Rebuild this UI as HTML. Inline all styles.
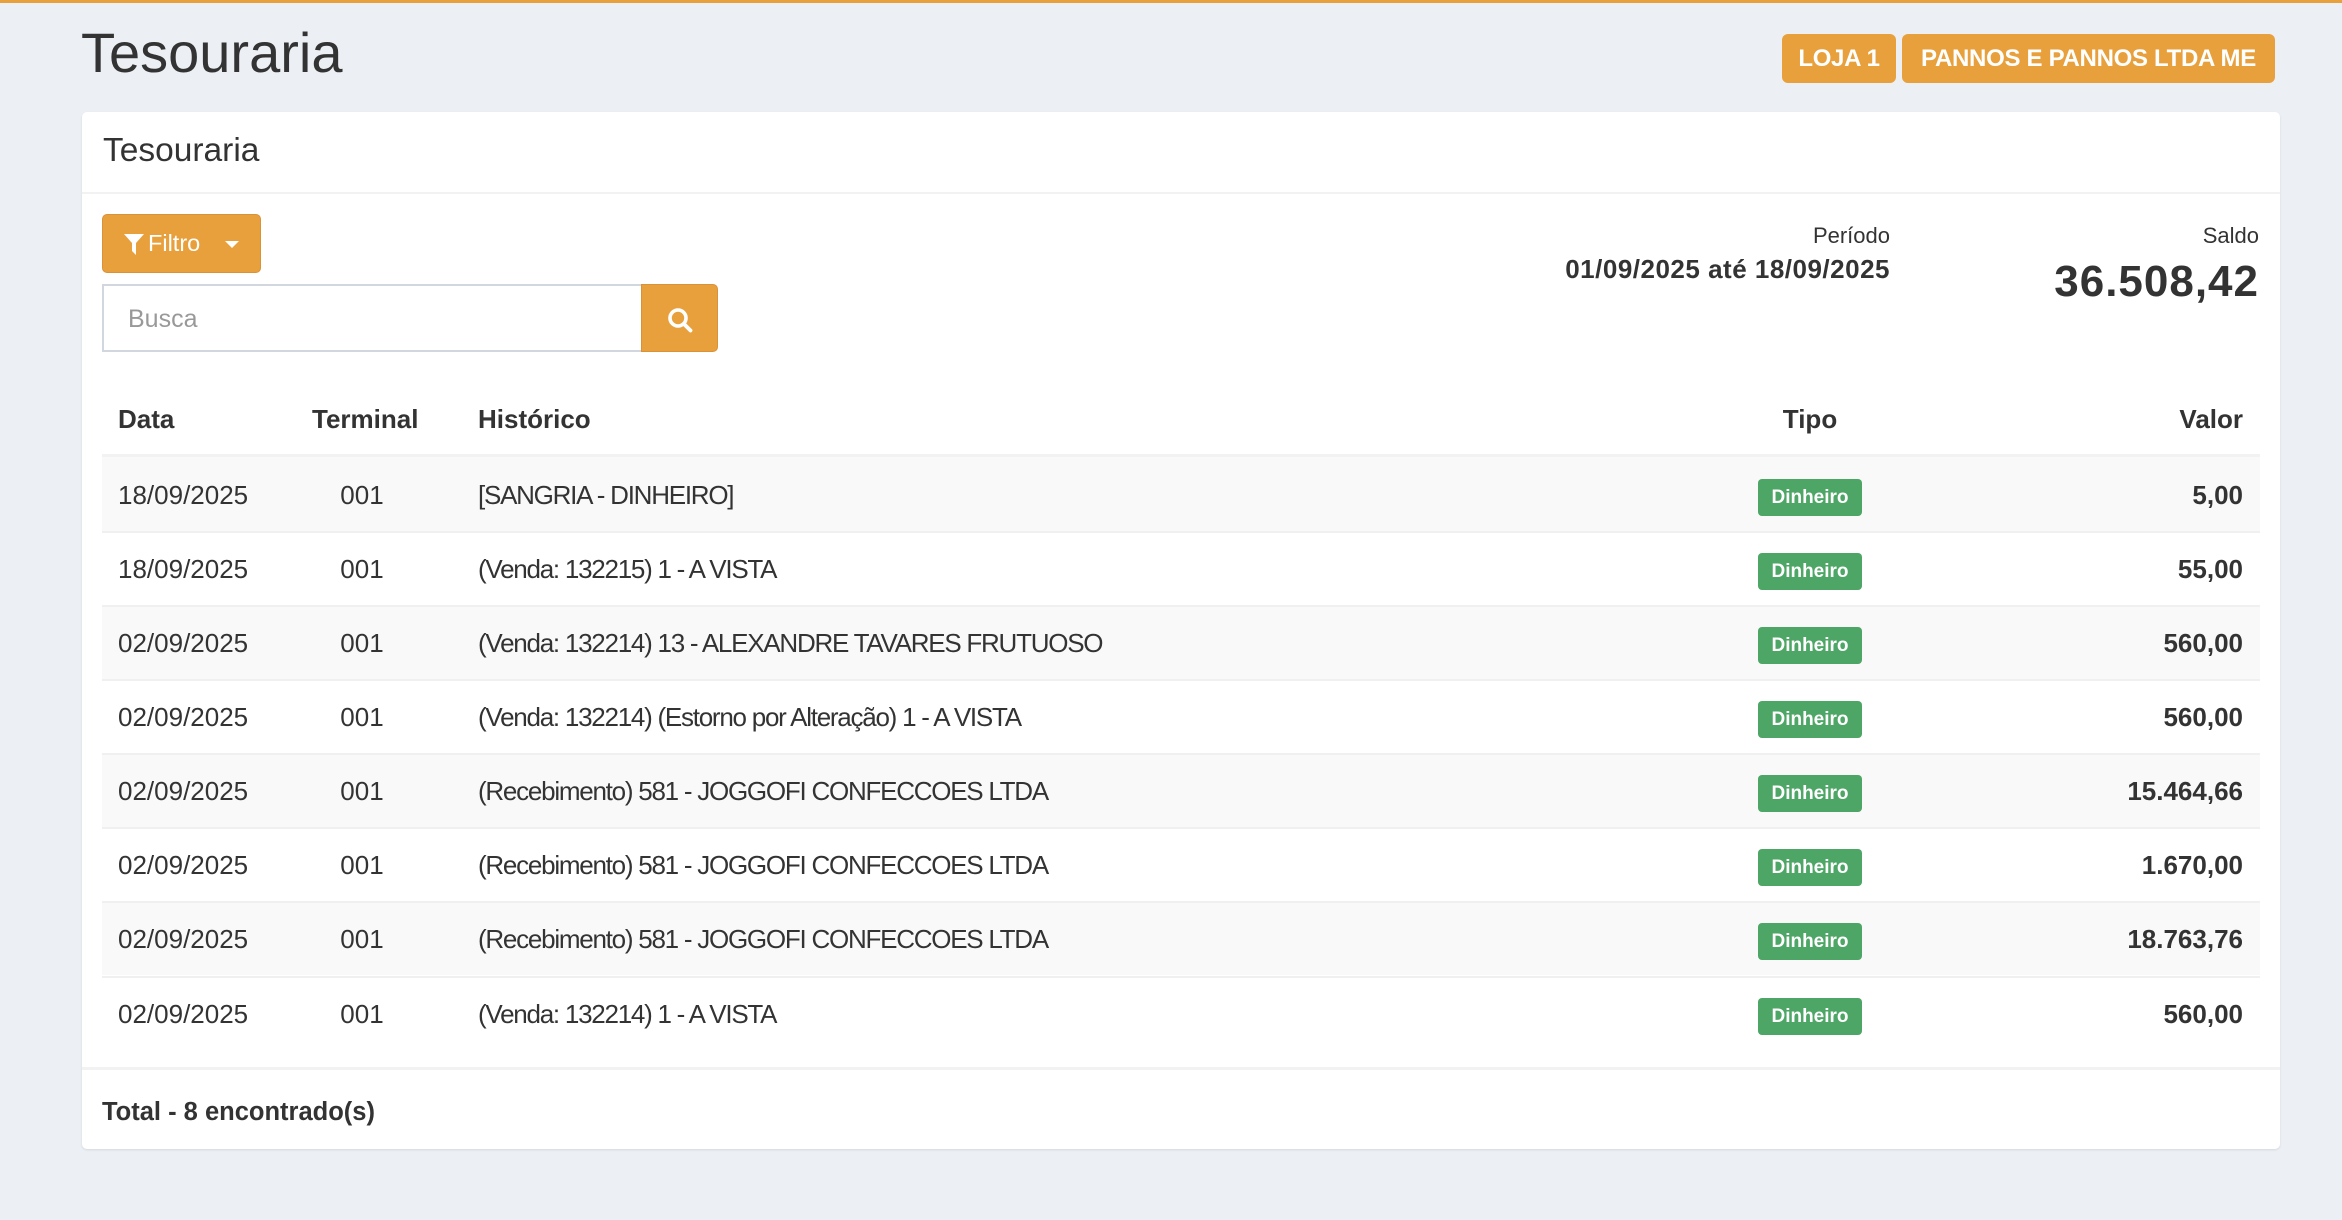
<!DOCTYPE html>
<html>
<head>
<meta charset="utf-8">
<style>
  html,body{margin:0;padding:0;}
  body{width:2342px;height:1220px;overflow:hidden;position:relative;background:#ecf0f5;font-family:"Liberation Sans",Arial,sans-serif;color:#333;}
  .a{position:absolute;white-space:nowrap;line-height:1;}
  .topbar{position:absolute;left:0;top:0;width:2342px;height:3px;background:#e8a03c;}
  .btn-top{position:absolute;top:34px;height:49px;line-height:49px;background:#e8a03c;color:#fff;font-weight:bold;font-size:24px;letter-spacing:-0.3px;text-align:center;border-radius:6px;box-sizing:border-box;}
  .card{position:absolute;left:82px;top:112px;width:2198px;height:1037px;background:#fff;border-radius:5px;box-shadow:0 1px 2px rgba(0,0,0,0.10);}
  .hr{position:absolute;background:#f2f2f2;}
  .row{position:absolute;left:102px;width:2158px;height:74px;}
  .row.s{background:#f9f9f9;}
  .row .bt{position:absolute;left:0;top:0;width:100%;height:1.5px;background:#f0f0f0;}
  .cell{position:absolute;top:25px;font-size:26px;line-height:1;white-space:nowrap;color:#333;}
  .c-data{left:16px;}
  .c-term{left:210px;width:100px;text-align:center;}
  .c-hist{left:376px;letter-spacing:-1.25px;}
  .c-val{right:17px;font-weight:bold;}
  .badge{position:absolute;left:1656px;top:22px;width:104px;height:37px;line-height:37px;background:#4da665;color:#fff;font-weight:bold;font-size:19px;text-align:center;border-radius:4px;}
  .th{position:absolute;top:406px;font-size:26px;font-weight:bold;line-height:1;white-space:nowrap;color:#333;}
</style>
</head>
<body>
<div class="topbar"></div>

<div class="a" style="left:81px;top:25px;font-size:56px;color:#333;">Tesouraria</div>

<div class="btn-top" style="left:1782px;width:114px;">LOJA 1</div>
<div class="btn-top" style="left:1902px;width:373px;">PANNOS E PANNOS LTDA ME</div>

<div class="card"></div>

<div class="a" style="left:103px;top:134px;font-size:33.5px;color:#333;">Tesouraria</div>
<div class="hr" style="left:82px;top:192px;width:2198px;height:2px;"></div>

<!-- Filtro button -->
<div style="position:absolute;left:102px;top:214px;width:159px;height:59px;background:#e8a03c;border:1.5px solid #d9923a;box-sizing:border-box;border-radius:5px;"></div>
<svg style="position:absolute;left:124px;top:234px;" width="20" height="22" viewBox="0 0 20 22">
  <path d="M0,0 H20 L12,9 V21 L8,17 V9 Z" fill="#fff"/>
</svg>
<div class="a" style="left:148px;top:232px;font-size:23.5px;color:#fff;">Filtro</div>
<div style="position:absolute;left:225px;top:241px;width:0;height:0;border-left:7.5px solid transparent;border-right:7.5px solid transparent;border-top:7.5px solid #fff;"></div>

<!-- Search -->
<div style="position:absolute;left:102px;top:284px;width:541px;height:68px;background:#fff;border:2px solid #d2d6de;box-sizing:border-box;"></div>
<div class="a" style="left:128px;top:307px;font-size:25px;color:#999;">Busca</div>
<div style="position:absolute;left:641px;top:284px;width:77px;height:68px;background:#e8a03c;border:1.5px solid #d9923a;box-sizing:border-box;border-radius:0 5px 5px 0;"></div>
<svg style="position:absolute;left:667px;top:307px;" width="27" height="27" viewBox="0 0 27 27">
  <circle cx="11" cy="11" r="8" stroke="#fff" stroke-width="3.6" fill="none"/>
  <line x1="17" y1="17" x2="23.5" y2="23.5" stroke="#fff" stroke-width="3.8" stroke-linecap="round"/>
</svg>

<!-- Periodo / Saldo -->
<div class="a" style="right:452px;top:225px;font-size:22px;color:#333;">Período</div>
<div class="a" style="right:452px;top:256px;font-size:26px;font-weight:bold;letter-spacing:0.5px;color:#333;">01/09/2025 até 18/09/2025</div>
<div class="a" style="right:83px;top:225px;font-size:22px;color:#333;">Saldo</div>
<div class="a" style="right:83px;top:260px;font-size:44px;font-weight:bold;letter-spacing:1px;color:#333;">36.508,42</div>

<!-- Table header -->
<div class="th" style="left:118px;">Data</div>
<div class="th" style="left:312px;width:100px;text-align:center;">Terminal</div>
<div class="th" style="left:478px;">Histórico</div>
<div class="th" style="left:1760px;width:100px;text-align:center;">Tipo</div>
<div class="th" style="right:99px;">Valor</div>
<div class="hr" style="left:102px;top:454px;width:2158px;height:3px;background:#f2f2f2;"></div>

<!-- Rows -->
<div class="row s" style="top:457px;">
  <div class="cell c-data">18/09/2025</div><div class="cell c-term">001</div>
  <div class="cell c-hist">[SANGRIA - DINHEIRO]</div>
  <div class="badge">Dinheiro</div><div class="cell c-val">5,00</div>
</div>
<div class="row" style="top:531px;"><div class="bt"></div>
  <div class="cell c-data">18/09/2025</div><div class="cell c-term">001</div>
  <div class="cell c-hist">(Venda: 132215) 1 - A VISTA</div>
  <div class="badge">Dinheiro</div><div class="cell c-val">55,00</div>
</div>
<div class="row s" style="top:605px;"><div class="bt"></div>
  <div class="cell c-data">02/09/2025</div><div class="cell c-term">001</div>
  <div class="cell c-hist">(Venda: 132214) 13 - ALEXANDRE TAVARES FRUTUOSO</div>
  <div class="badge">Dinheiro</div><div class="cell c-val">560,00</div>
</div>
<div class="row" style="top:679px;"><div class="bt"></div>
  <div class="cell c-data">02/09/2025</div><div class="cell c-term">001</div>
  <div class="cell c-hist">(Venda: 132214) (Estorno por Alteração) 1 - A VISTA</div>
  <div class="badge">Dinheiro</div><div class="cell c-val">560,00</div>
</div>
<div class="row s" style="top:753px;"><div class="bt"></div>
  <div class="cell c-data">02/09/2025</div><div class="cell c-term">001</div>
  <div class="cell c-hist">(Recebimento) 581 - JOGGOFI CONFECCOES LTDA</div>
  <div class="badge">Dinheiro</div><div class="cell c-val">15.464,66</div>
</div>
<div class="row" style="top:827px;"><div class="bt"></div>
  <div class="cell c-data">02/09/2025</div><div class="cell c-term">001</div>
  <div class="cell c-hist">(Recebimento) 581 - JOGGOFI CONFECCOES LTDA</div>
  <div class="badge">Dinheiro</div><div class="cell c-val">1.670,00</div>
</div>
<div class="row s" style="top:901px;"><div class="bt"></div>
  <div class="cell c-data">02/09/2025</div><div class="cell c-term">001</div>
  <div class="cell c-hist">(Recebimento) 581 - JOGGOFI CONFECCOES LTDA</div>
  <div class="badge">Dinheiro</div><div class="cell c-val">18.763,76</div>
</div>
<div class="row" style="top:976px;"><div class="bt"></div>
  <div class="cell c-data">02/09/2025</div><div class="cell c-term">001</div>
  <div class="cell c-hist">(Venda: 132214) 1 - A VISTA</div>
  <div class="badge">Dinheiro</div><div class="cell c-val">560,00</div>
</div>

<!-- Footer -->
<div class="hr" style="left:82px;top:1067px;width:2198px;height:2.5px;"></div>
<div class="a" style="left:102px;top:1100px;font-size:25.5px;font-weight:bold;color:#333;">Total - 8 encontrado(s)</div>
</body>
</html>
